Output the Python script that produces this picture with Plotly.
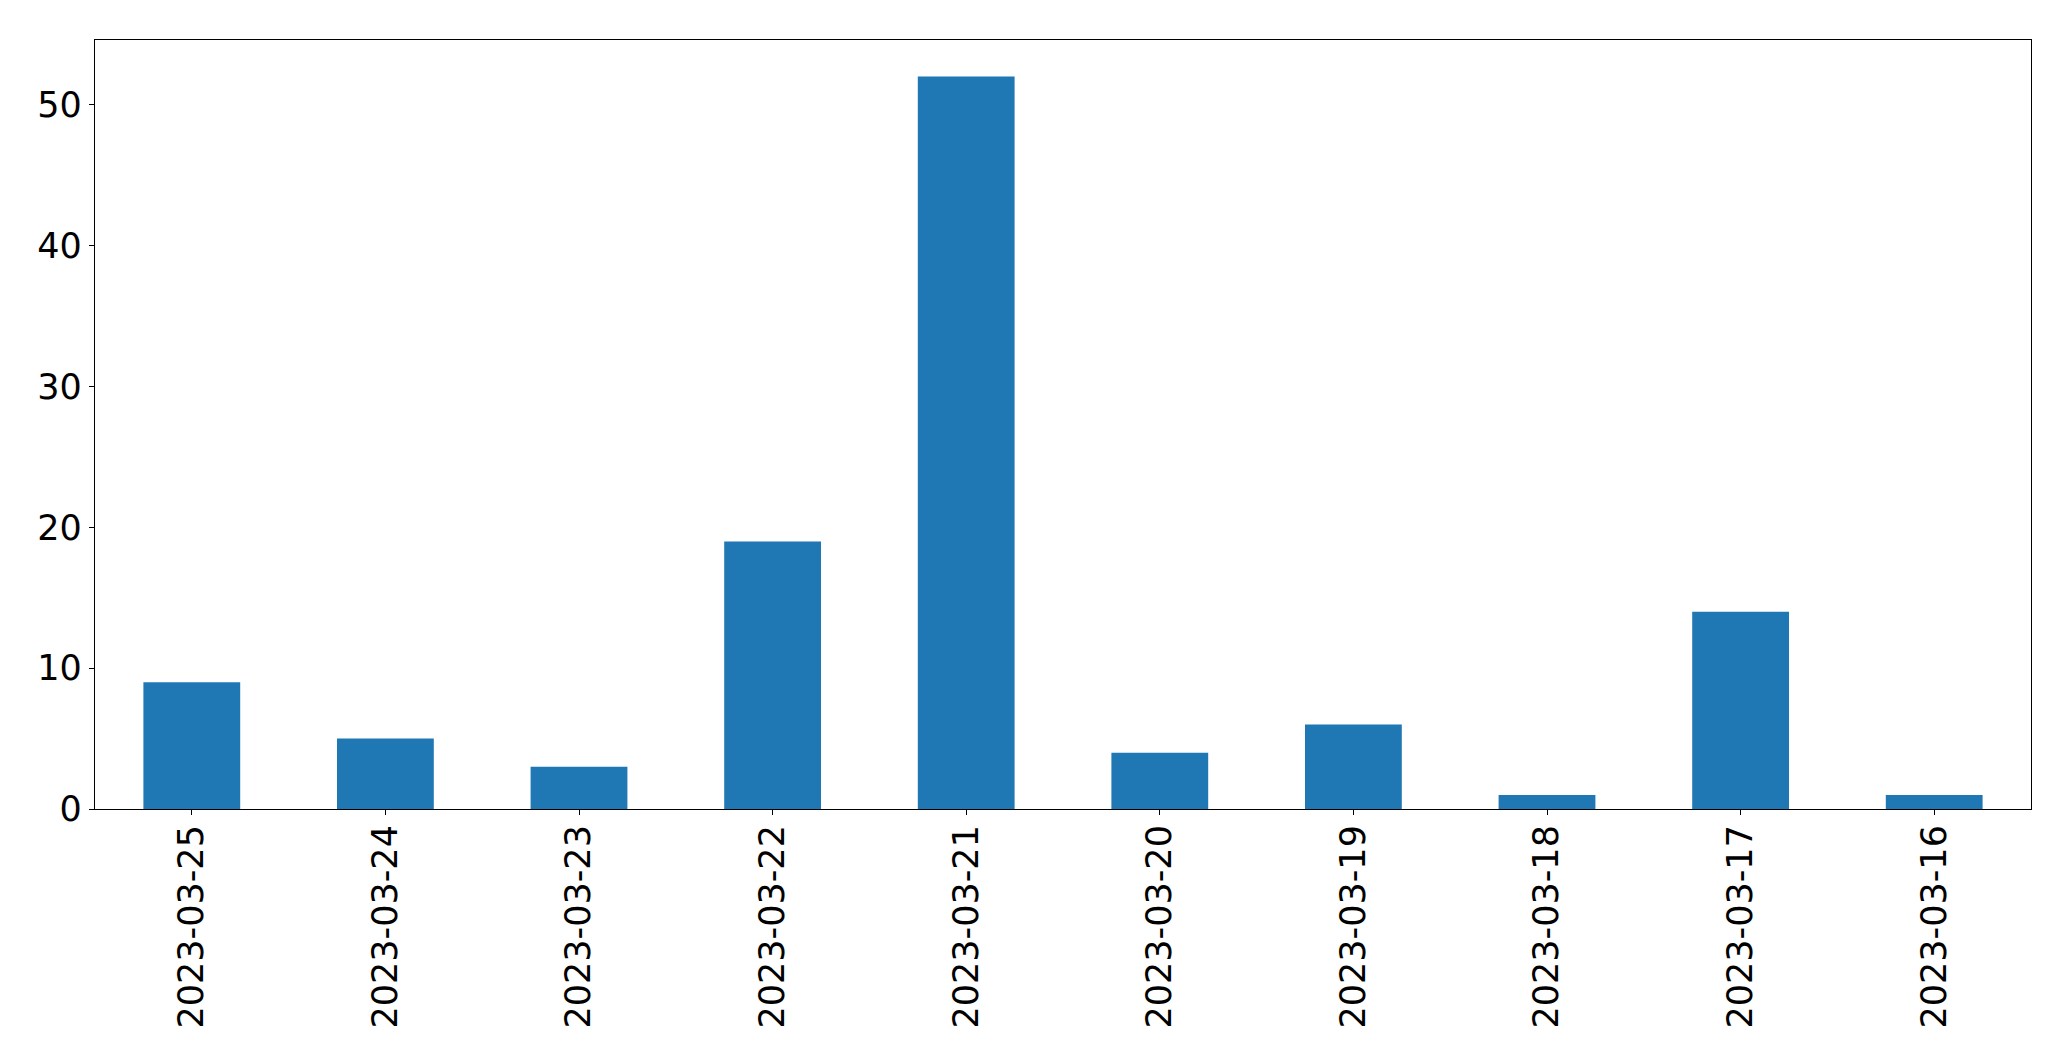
import plotly.graph_objects as go

dates = ["2023-03-25", "2023-03-24", "2023-03-23", "2023-03-22", "2023-03-21",
         "2023-03-20", "2023-03-19", "2023-03-18", "2023-03-17", "2023-03-16"]
counts = [9, 5, 3, 19, 52, 4, 6, 1, 14, 1]
y_ticks = [0, 10, 20, 30, 40, 50]

fig = go.Figure()
fig.add_trace(go.Bar(x=dates, y=counts, marker=dict(color="#1f77b4", line=dict(width=0)), width=0.5))

font = dict(family="DejaVu Sans", size=35, color="black")
fig.update_layout(
    width=2063, height=1053,
    margin=dict(l=87, r=40, t=32, b=252, pad=0),
    paper_bgcolor="white", plot_bgcolor="white",
    showlegend=False, bargap=0.5,
    font=font,
)
fig.update_xaxes(type="category", range=[-0.5, 9.5], tickangle=-90,
                 showline=True, linecolor="black", linewidth=1.2, mirror=True,
                 ticks="outside", ticklen=5, tickwidth=1.2, tickcolor="black",
                 ticklabelstandoff=-4,
                 showgrid=False, zeroline=False, tickfont=font)
fig.update_yaxes(range=[0, 54.6], tickvals=y_ticks,
                 showline=True, linecolor="black", linewidth=1.2, mirror=True,
                 ticks="outside", ticklen=5, tickwidth=1.2, tickcolor="black",
                 showgrid=False, zeroline=False, tickfont=font)

fig.write_html("out.html")
